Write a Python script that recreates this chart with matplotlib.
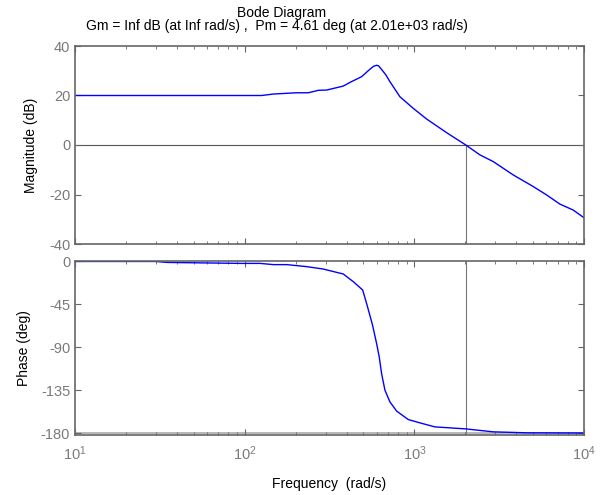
import numpy as np
import matplotlib
matplotlib.use('Agg')
import matplotlib.pyplot as plt
from matplotlib.ticker import LogLocator, NullFormatter

plt.rcParams['font.family'] = ['Liberation Sans', 'DejaVu Sans']
plt.rcParams['mathtext.fontset'] = 'custom'
plt.rcParams['mathtext.rm'] = 'Liberation Sans'
plt.rcParams['mathtext.it'] = 'Liberation Sans'
plt.rcParams['axes.unicode_minus'] = False

# magnitude curve (rad/s, dB)
w_mag = [10, 30, 60, 126, 148, 202, 237, 272, 304, 381, 426, 489, 547, 575,
         599, 615, 640, 680, 718, 822, 986, 1181, 1549, 2010, 2437, 2918,
         3828, 5024, 6026, 7219, 8650, 10000]
mag_db = [20.0, 20.0, 20.0, 20.0, 20.6, 21.1, 21.1, 22.1, 22.2, 23.8, 25.6,
          27.6, 30.6, 31.8, 32.2, 32.0, 30.6, 28.3, 25.6, 19.5, 14.8, 10.5,
          5.0, 0.0, -4.0, -6.7, -12.1, -16.8, -20.2, -23.9, -26.3, -29.4]

# phase curve (rad/s, deg)
w_ph = [10, 30, 35, 94, 123, 148, 177, 232, 290, 381, 437, 496, 523, 567,
        599, 621, 641, 671, 718, 787, 921, 1079, 1322, 2010, 2918, 4580, 10000]
phase_deg = [0.0, 0.0, -1.0, -2.0, -2.0, -3.3, -3.3, -5.4, -7.9, -13.1, -21.2,
             -29.9, -43.9, -66.6, -85.8, -99.9, -117.3, -134.8, -147.1,
             -156.8, -165.6, -169.1, -173.3, -175.4, -178.5, -179.5, -179.7]

w_pm = 2010
title_lines = ['Bode Diagram',
               'Gm = Inf dB (at Inf rad/s) ,  Pm = 4.61 deg (at 2.01e+03 rad/s)']

edge = '#666666'
tickc = '#7a7a7a'

fig = plt.figure(figsize=(6.06, 4.95), dpi=100)
ax1 = fig.add_axes([75/606, 1-244/495, 509/606, 198/495])
ax2 = fig.add_axes([75/606, 1-435/495, 509/606, 174/495])

for ax in (ax1, ax2):
    ax.set_xscale('log')
    ax.set_xlim(10, 1e4)
    ax.xaxis.set_major_locator(LogLocator(base=10))
    ax.xaxis.set_minor_locator(LogLocator(base=10, subs=np.arange(2, 10)))
    ax.xaxis.set_minor_formatter(NullFormatter())
    ax.tick_params(which='both', direction='in', top=True, right=True,
                   colors=edge, labelcolor=tickc, labelsize=10.5)
    ax.tick_params(which='major', length=4)
    ax.tick_params(which='minor', length=2.5)
    ax.tick_params(axis='x', pad=7)
    for s in ax.spines.values():
        s.set_color(edge)
        s.set_linewidth(1.2)

# magnitude
ax1.plot(w_mag, mag_db, color='blue', lw=1)
ax1.axhline(0, color='#555555', lw=0.8, zorder=1)
ax1.plot([w_pm, w_pm], [-40, 0], color='#777777', lw=0.8, zorder=1)
ax1.set_ylim(-40, 40)
ax1.set_yticks([-40, -20, 0, 20, 40])
ax1.tick_params(axis='x', labelbottom=False)
ax1.set_ylabel('Magnitude (dB)', fontsize=10)
ax1.yaxis.set_label_coords(-0.073, 0.5)

# phase
ax2.plot(w_ph, phase_deg, color='blue', lw=1)
ax2.axhline(-180, color='#aaaaaa', lw=1.2, zorder=1)
ax2.plot([w_pm, w_pm], [-180, 0], color='#777777', lw=0.8, zorder=1)
ax2.set_ylim(-181.8, 0.5)
ax2.set_yticks([-180, -135, -90, -45, 0])
ax2.set_ylabel('Phase (deg)', fontsize=10)
ax2.yaxis.set_label_coords(-0.086, 0.5)
ax2.set_xlabel('Frequency  (rad/s)', fontsize=10, labelpad=10)

fig.text(282/606, 1-13/495, title_lines[0], ha='center', va='center', fontsize=10)
fig.text(277/606, 1-26/495, title_lines[1], ha='center', va='center', fontsize=10)

fig.savefig('out.png', dpi=100)
